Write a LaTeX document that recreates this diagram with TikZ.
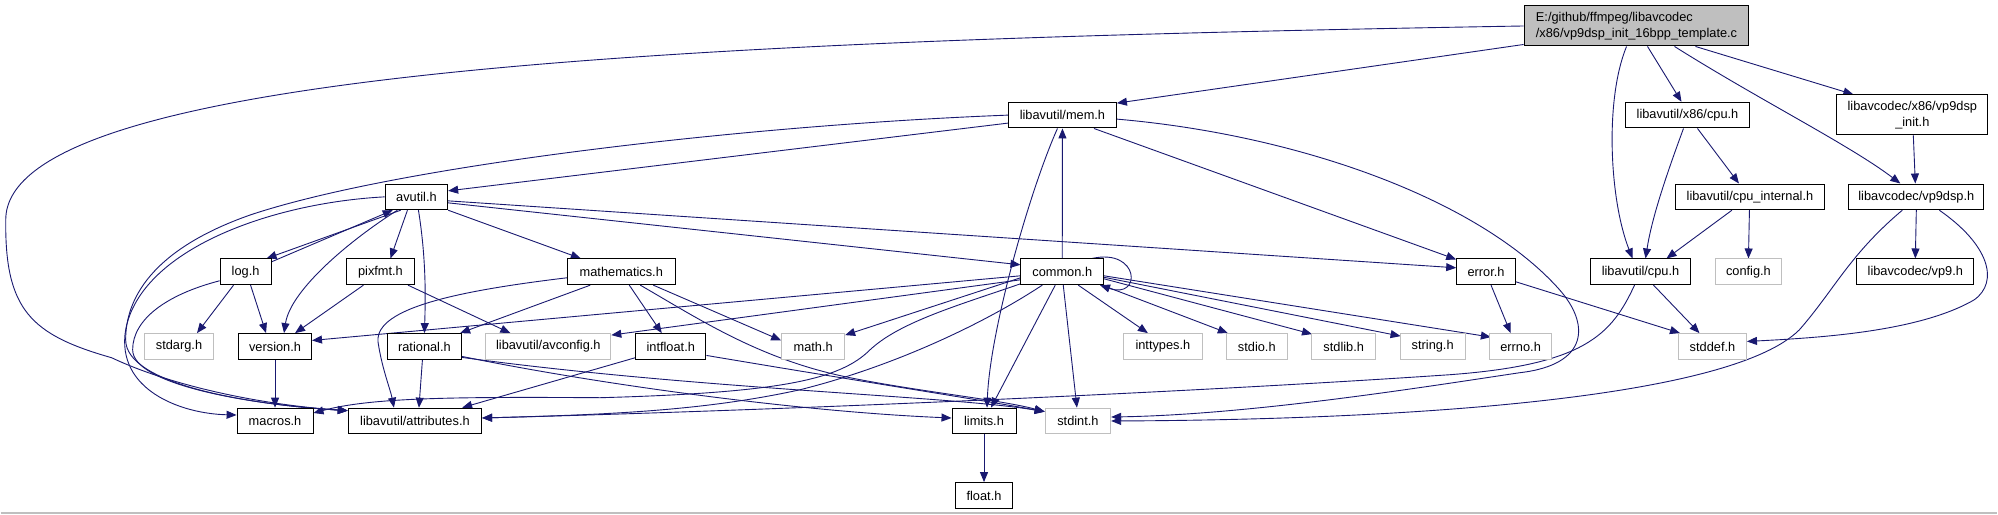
\documentclass[tikz,border=0pt]{standalone}
\usepackage{fontspec}
\newfontfamily\dxfont{Liberation Sans}
\usetikzlibrary{calc,arrows.meta}
\definecolor{mblue}{HTML}{191970}
\definecolor{lgray}{HTML}{BFBFBF}
\pgfdeclarelayer{back}
\pgfdeclarelayer{edges}
\pgfsetlayers{back,edges,main}
\tikzset{
  nb/.style={draw=black, line width=1pt, fill=white, minimum height=25.7pt, inner sep=0pt, font=\dxfont\fontsize{12.8}{15.5}\selectfont},
  ng/.style={nb, draw=lgray},
  e/.style={draw=mblue, line width=0.9pt, -{Triangle[length=10pt,width=8pt]}},
}
\begin{document}
\begin{tikzpicture}[x=1pt,y=-1pt]
\begin{pgfonlayer}{back}
\fill[white] (0,0) rectangle (1998,515);
\draw[lgray,line width=1.5pt] (0,513.5) -- (1998,513.5);
\end{pgfonlayer}
\useasboundingbox (0,0) rectangle (1998,515);
% nodes
\node[nb,fill=lgray,minimum width=225pt,minimum height=40pt,align=left] (main) at (1637,26) {E:/github/ffmpeg/libavcodec\\/x86/vp9dsp\_init\_16bpp\_template.c};
\node[nb,minimum width=151pt,minimum height=40pt,align=center] (vp9init) at (1913,115) {libavcodec/x86/vp9dsp\\\_init.h};
\node[nb,minimum width=108pt] (mem) at (1062.5,115.2) {libavutil/mem.h};
\node[nb,minimum width=125pt] (x86cpu) at (1688,115.2) {libavutil/x86/cpu.h};
\node[nb,minimum width=62.5pt] (avutil) at (416,197) {avutil.h};
\node[nb,minimum width=149pt] (cpuint) at (1750.5,197) {libavutil/cpu\_internal.h};
\node[nb,minimum width=135pt] (vp9dsp) at (1917,197) {libavcodec/vp9dsp.h};
\node[nb,minimum width=51pt] (log) at (245,272) {log.h};
\node[nb,minimum width=68pt] (pixfmt) at (380,272) {pixfmt.h};
\node[nb,minimum width=108pt] (math) at (621,272) {mathematics.h};
\node[nb,minimum width=82.6pt] (common) at (1062.3,272) {common.h};
\node[nb,minimum width=58.7pt] (error) at (1486.4,272) {error.h};
\node[nb,minimum width=100pt] (cpu) at (1641,272) {libavutil/cpu.h};
\node[ng,minimum width=66pt] (config) at (1749,272) {config.h};
\node[nb,minimum width=117pt] (vp9) at (1916,272) {libavcodec/vp9.h};
\node[ng,minimum width=69pt] (stdarg) at (178.4,346.7) {stdarg.h};
\node[nb,minimum width=73pt] (version) at (274.5,346.7) {version.h};
\node[nb,minimum width=74.4pt] (rational) at (424,346.7) {rational.h};
\node[ng,minimum width=125pt] (avconfig) at (548,346.7) {libavutil/avconfig.h};
\node[nb,minimum width=70.5pt] (intfloat) at (670.5,346.7) {intfloat.h};
\node[ng,minimum width=63pt] (mathh) at (813,346.7) {math.h};
\node[ng,minimum width=78.5pt] (inttypes) at (1163,346.7) {inttypes.h};
\node[ng,minimum width=61pt] (stdio) at (1257,346.7) {stdio.h};
\node[ng,minimum width=64.5pt] (stdlib) at (1344,346.7) {stdlib.h};
\node[ng,minimum width=65.3pt] (string) at (1433,346.7) {string.h};
\node[ng,minimum width=62.5pt] (errno) at (1521,346.7) {errno.h};
\node[ng,minimum width=68pt] (stddef) at (1713,346.7) {stddef.h};
\node[nb,minimum width=76pt] (macros) at (274.5,421.3) {macros.h};
\node[nb,minimum width=133.5pt] (attr) at (414.5,421.3) {libavutil/attributes.h};
\node[nb,minimum width=64pt] (limits) at (984,421.3) {limits.h};
\node[ng,minimum width=65.5pt] (stdint) at (1078,421.3) {stdint.h};
\node[nb,minimum width=57.5pt] (float) at (984,495.8) {float.h};
% edges
\begin{pgfonlayer}{edges}
% from main
\draw[e] (main.west) .. controls (700,40) and (5,70) .. (5,220) .. controls (4,310) and (30,335) .. (111,358) .. controls (170,386) and (260,405) .. ($(attr.north west)+(0,3)$);
\draw[e] ($(main.south west)+(0,-2)$) -- ($(mem.east)+(0,-12)$);
\draw[e] ($(main.south)+(-10,0)$) .. controls (1605,100) and (1610,200) .. ($(cpu.north)+(-8,0)$);
\draw[e] ($(main.south)+(11,0)$) -- ($(x86cpu.north)+(-6,0)$);
\draw[e] ($(main.south)+(38,0)$) .. controls (1760,100) and (1850,145) .. ($(vp9dsp.north)+(-16,0)$);
\draw[e] ($(main.south)+(59,0)$) -- ($(vp9init.north)+(-59,0)$);
% vp9
\draw[e] ($(vp9init.south)+(1,0)$) -- ($(vp9dsp.north)+(-1,0)$);
\draw[e] (vp9dsp.south) -- (vp9.north);
\draw[e] ($(vp9dsp.south)+(23,0)$) .. controls (1990,245) and (2000,282) .. (1975,300) .. controls (1920,332) and (1820,338) .. ($(stddef.east)+(0,-5)$);
\draw[e] ($(vp9dsp.south)+(-14,0)$) .. controls (1850,255) and (1835,290) .. (1800,330) .. controls (1730,400) and (1400,420) .. (stdint.east);
% cpu
\draw[e] ($(x86cpu.south)+(-4,0)$) .. controls (1665,180) and (1652,220) .. ($(cpu.north)+(5,0)$);
\draw[e] ($(x86cpu.south)+(10,0)$) -- ($(cpuint.north)+(-11,0)$);
\draw[e] ($(cpuint.south)+(-18,0)$) -- ($(cpu.north)+(26,0)$);
\draw[e] ($(cpuint.south)+(-0.5,0)$) -- (config.north);
\draw[e] ($(cpu.south)+(13,0)$) -- ($(stddef.north)+(-13,0)$);
\draw[e] ($(cpu.south)+(-6,0)$) .. controls (1612,335) and (1585,365) .. (1450,375) .. controls (1200,392) and (800,410) .. ($(attr.east)+(0,-3)$);
% error
\draw[e] ($(error.east)+(0,10)$) -- ($(stddef.north west)+(2,0)$);
\draw[e] ($(error.south)+(5,0)$) -- ($(errno.north)+(-10,0)$);
% mem
\draw[e] (mem.west) .. controls (750,125) and (400,165) .. (250,215) .. controls (150,250) and (125,300) .. (125,340) .. controls (125,385) and (250,405) .. ($(attr.north west)+(0,3)$);
\draw[e] ($(mem.west)+(0,8)$) -- ($(avutil.east)+(0,-6)$);
\draw[e] ($(mem.south east)+(-23,0)$) -- ($(error.north west)+(0,1)$);
\draw[e] ($(mem.south)+(-5,0)$) .. controls (1030,190) and (990,330) .. ($(limits.north)+(3,0)$);
\draw[e] ($(mem.east)+(0,4)$) .. controls (1300,135) and (1480,200) .. (1560,290) .. controls (1590,324) and (1590,365) .. (1520,373) .. controls (1420,388) and (1250,415) .. ($(stdint.east)+(0,-4)$);
% common
\draw[e] (common.north) -- (mem.south);
\draw[e] ($(common.north east)+(-12,0)$) .. controls (1140,248) and (1142,300) .. ($(common.south east)+(-4,0)$);
\draw[e] ($(common.south)+(16,0)$) -- ($(inttypes.north)+(-15,0)$);
\draw[e] ($(common.south east)+(-2,0)$) -- ($(stdio.north west)+(2,0)$);
\draw[e] ($(common.east)+(0,7)$) -- ($(stdlib.north west)+(1,1)$);
\draw[e] ($(common.east)+(0,5.5)$) -- ($(string.north west)+(1,3)$);
\draw[e] ($(common.east)+(0,4)$) -- ($(errno.north west)+(2,4)$);
\draw[e] ($(common.south)+(1,0)$) -- ($(stdint.north)+(-1,0)$);
\draw[e] ($(common.south)+(-7,0)$) -- ($(limits.north)+(7,0)$);
\draw[e] ($(common.west)+(0,6)$) -- ($(mathh.north east)+(0,2)$);
\draw[e] ($(common.west)+(0,4)$) -- ($(version.east)+(0,-6)$);
\draw[e] ($(common.west)+(0,8)$) -- ($(avconfig.north east)+(0,2)$);
\draw[e] ($(common.west)+(0,12)$) .. controls (960,305) and (900,322) .. (870,350) .. controls (840,380) and (780,393) .. (600,398) .. controls (450,397) and (370,398) .. ($(macros.east)+(0,-8)$);
\draw[e] ($(common.south)+(-20,0)$) .. controls (990,320) and (900,365) .. (800,390) .. controls (700,412) and (600,415) .. ($(attr.east)+(0,-3)$);
% avutil
\draw[e] ($(avutil.east)+(0,6)$) -- ($(common.west)+(0,-7)$);
\draw[e] ($(avutil.east)+(0,4)$) -- ($(error.west)+(0,-4)$);
\draw[e] ($(avutil.south west)+(16,0)$) -- ($(log.north east)+(-5,0)$);
\draw[e] ($(log.east)+(0,-10)$) -- ($(avutil.south west)+(8,0)$);
\draw[e] ($(avutil.south)+(-19,0)$) .. controls (350,240) and (290,290) .. ($(version.north)+(9,0)$);
\draw[e] ($(avutil.south)+(-9,0)$) -- ($(pixfmt.north)+(10,0)$);
\draw[e] ($(avutil.south)+(2,0)$) .. controls (426,260) and (425,300) .. (rational.north);
\draw[e] (avutil.south east) -- ($(math.north west)+(14,0)$);
\draw[e] (avutil.west) .. controls (270,203) and (140,250) .. (125,330) .. controls (115,390) and (180,414) .. ($(macros.west)+(0,-6)$);
% log, pixfmt, version
\draw[e] ($(log.west)+(0,9)$) .. controls (165,295) and (132,320) .. (132,350) .. controls (132,385) and (250,405) .. ($(attr.north west)+(0,3)$);
\draw[e] ($(log.south)+(-12,0)$) -- ($(stdarg.north)+(18,0)$);
\draw[e] ($(log.south)+(5,0)$) -- ($(version.north)+(-9,0)$);
\draw[e] ($(pixfmt.south)+(-17,0)$) -- ($(version.north)+(20,0)$);
\draw[e] ($(pixfmt.south east)+(-7,0)$) -- ($(avconfig.north west)+(25,0)$);
\draw[e] (version.south) -- (macros.north);
% rational, mathematics, intfloat
\draw[e] ($(rational.south)+(-2,0)$) -- ($(attr.north)+(4,0)$);
\draw[e] ($(rational.east)+(0,10)$) .. controls (600,385) and (800,412) .. ($(limits.west)+(0,-3)$);
\draw[e] ($(rational.east)+(0,11)$) .. controls (700,390) and (950,396) .. ($(stdint.north west)+(0,4)$);
\draw[e] ($(math.south)+(-31,0)$) -- ($(rational.north east)+(-2,0)$);
\draw[e] ($(math.west)+(0,6)$) .. controls (450,292) and (370,310) .. (378,345) .. controls (382,370) and (390,390) .. ($(attr.north)+(-21,0)$);
\draw[e] ($(math.south)+(8,0)$) -- ($(intfloat.north)+(-9,0)$);
\draw[e] ($(math.south)+(32,0)$) -- ($(mathh.west)+(0,-6)$);
\draw[e] ($(math.south)+(19,0)$) .. controls (700,320) and (760,360) .. (850,378) .. controls (920,392) and (1000,400) .. ($(stdint.north west)+(0,4)$);
\draw[e] ($(intfloat.south west)+(0,-2)$) -- ($(attr.north east)+(-20,0)$);
\draw[e] ($(intfloat.east)+(0,9)$) .. controls (850,380) and (980,400) .. ($(stdint.north west)+(0,4)$);
\draw[e] (limits.south) -- (float.north);
\end{pgfonlayer}
\end{tikzpicture}
\end{document}
